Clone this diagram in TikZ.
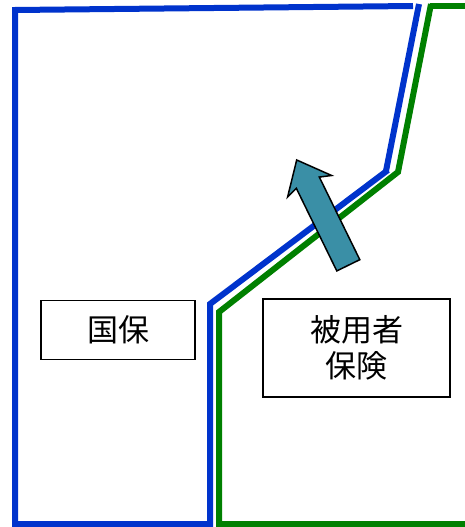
\documentclass[tikz,border=0pt]{standalone}
\usepackage{fontspec}
\newfontfamily\jp{Noto Sans CJK JP}
\definecolor{lineblue}{RGB}{0,51,204}
\definecolor{linegreen}{RGB}{0,128,0}
\definecolor{arrowteal}{RGB}{58,143,166}
\begin{document}
\begin{tikzpicture}[x=1pt,y=1pt,
  blueline/.style={draw=lineblue,line width=6pt,line join=miter},
  greenline/.style={draw=linegreen,line width=6pt,line join=miter},
  labelbox/.style={draw=black,line width=1.6pt,fill=white,font=\jp\fontsize{31}{36}\selectfont,align=center,inner sep=0pt}]
\useasboundingbox (0,0) rectangle (464,-527);
% blue border
\draw[blueline] (413,-6) -- (15,-10) -- (15,-524) -- (210,-524) -- (210,-304) -- (388,-170);
\draw[blueline] (386,-171) -- (419,-4);
% green border
\draw[greenline] (430,-6.5) -- (466,-6.5);
\draw[greenline] (431,-4) -- (398,-172) -- (219,-312) -- (219,-524) -- (466,-524);
% boxes
\node[labelbox,minimum width=154pt,minimum height=59pt] (kokuho) at (118,-330) {国保};
\node[labelbox,minimum width=187pt,minimum height=98pt] (hiyo) at (356.5,-348) {被用者\\保険};
% arrow
\begin{scope}[shift={(348.3,-265.3)},rotate=116.1]
\draw[fill=arrowteal,draw=black,line width=1.5pt,line join=miter]
  (0,-12.8) -- (92,-12.8) -- (88,-24.5) -- (117.3,0) -- (88,24.5) -- (92,12.8) -- (0,12.8) -- cycle;
\end{scope}
\end{tikzpicture}
\end{document}
